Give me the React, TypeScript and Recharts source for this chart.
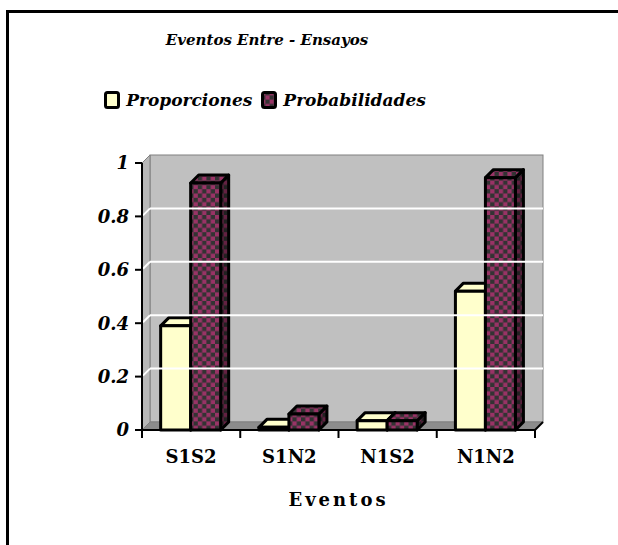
import { BarChart, Bar, XAxis, YAxis, Legend, ReferenceArea, ReferenceLine } from 'recharts'

const CATEGORIES = ['S1S2', 'S1N2', 'N1S2', 'N1N2']
const PROPORCIONES = [0.39, 0.01, 0.035, 0.52]
const PROBABILIDADES = [0.925, 0.06, 0.035, 0.945]
const SERIES_NAMES = ['Proporciones', 'Probabilidades']
const Y_TICKS = [0, 0.2, 0.4, 0.6, 0.8, 1]
const GRID_VALUES = [0.2, 0.4, 0.6, 0.8]

const data = CATEGORIES.map((cat, i) => ({
  cat,
  proporciones: PROPORCIONES[i],
  probabilidades: PROBABILIDADES[i],
}))

const D = 8 // 3D depth offset
const FONT = '"DejaVu Serif", "Liberation Serif", serif'
const YELLOW = '#FFFFCC'

function Bar3D(props: any) {
  const { x, y, width: w, height: h, fill } = props
  if (w == null || h == null) return null
  const isPattern = fill.startsWith('url')
  const side = `${x + w},${y} ${x + w + D},${y - D} ${x + w + D},${y + h - D} ${x + w},${y + h}`
  return (
    <g stroke="#000" strokeWidth={3} strokeLinejoin="round">
      <polygon points={side} fill={fill} />
      <polygon points={side} fill="#000" fillOpacity={isPattern ? 0.35 : 0.15} stroke="none" />
      <polygon points={`${x},${y} ${x + D},${y - D} ${x + w + D},${y - D} ${x + w},${y}`} fill={fill} />
      <rect x={x} y={y} width={w} height={h} fill={fill} />
    </g>
  )
}

function Walls(props: any) {
  const { x, y, width: w, height: h } = props
  const b = y + h
  return (
    <g>
      <rect x={x + D} y={y - D} width={w} height={h} fill="#C0C0C0" stroke="#808080" strokeWidth={1} />
      <polygon points={`${x},${y} ${x + D},${y - D} ${x + D},${b - D} ${x},${b}`} fill="#B8B8B8" stroke="#808080" strokeWidth={1} />
      <polygon points={`${x},${b} ${x + D},${b - D} ${x + w + D},${b - D} ${x + w},${b}`} fill="#8C8C8C" stroke="#808080" strokeWidth={1} />
      <line x1={x + w} y1={b} x2={x + w + D} y2={b - D} stroke="#000" strokeWidth={2} />
    </g>
  )
}

function GridLine(props: any) {
  const { x1, y1, x2, y2 } = props
  if (x1 == null) return null
  return (
    <g stroke="#fff" strokeWidth={2}>
      <line x1={x1 + 1} y1={y1 - 1} x2={x1 + D} y2={y1 - D} />
      <line x1={x1 + D} y1={y1 - D} x2={x2 + D} y2={y2 - D} />
    </g>
  )
}

function XTick(props: any) {
  const { x, y, payload, index, visibleTicksCount, width } = props
  const half = payload?.offset || width / (2 * visibleTicksCount)
  const last = index === visibleTicksCount - 1
  return (
    <g>
      <line x1={x - half} y1={y} x2={x - half} y2={y + 8} stroke="#000" strokeWidth={2} />
      {last && <line x1={x + half} y1={y} x2={x + half} y2={y + 8} stroke="#000" strokeWidth={2} />}
      <text x={x} y={y + 33} textAnchor="middle" fontFamily={FONT} fontWeight="bold" fontSize={18} fill="#000">
        {payload.value}
      </text>
    </g>
  )
}

function LegendContent(props: any) {
  const items = [...(props.payload || [])].sort(
    (a: any, b: any) => SERIES_NAMES.indexOf(a.value) - SERIES_NAMES.indexOf(b.value)
  )
  return (
    <div style={{ display: 'flex', justifyContent: 'center', gap: 9, marginLeft: -88 }}>
      {items.map((p: any) => (
        <div key={p.value} style={{ display: 'flex', alignItems: 'center', gap: 6 }}>
          <svg width={16} height={18}>
            <rect x={1.5} y={1.5} width={13} height={15} rx={2} fill={p.color} stroke="#000" strokeWidth={3} />
          </svg>
          <span style={{ fontFamily: FONT, fontWeight: 'bold', fontStyle: 'italic', fontSize: 17, color: '#000' }}>
            {p.value}
          </span>
        </div>
      ))}
    </div>
  )
}

export default function App() {
  return (
    <div style={{ position: 'absolute', left: 0, top: 0, width: 618, height: 545, background: '#fff' }}>
      <svg width={0} height={0} style={{ position: 'absolute' }}>
        <defs>
          <pattern id="checker" width={8.6} height={8.6} patternUnits="userSpaceOnUse">
            <rect width={8.6} height={8.6} fill="#333333" />
            <rect width={4.3} height={4.3} fill="#993366" />
            <rect x={4.3} y={4.3} width={4.3} height={4.3} fill="#993366" />
          </pattern>
        </defs>
      </svg>
      <div
        style={{
          position: 'absolute',
          left: 6,
          top: 10,
          width: 612,
          height: 535,
          borderLeft: '3px solid #000',
          borderTop: '3px solid #000',
        }}
      />
      <div
        style={{
          position: 'absolute',
          top: 31,
          left: 117,
          width: 300,
          textAlign: 'center',
          fontFamily: FONT,
          fontWeight: 'bold',
          fontStyle: 'italic',
          fontSize: 15,
          whiteSpace: 'nowrap',
        }}
      >
        Eventos Entre - Ensayos
      </div>
      <BarChart
        width={618}
        height={545}
        data={data}
        margin={{ top: 163, right: 83, left: 102, bottom: 35 }}
        barCategoryGap="19%"
        barGap={0}
      >
        <ReferenceArea y1={0} y2={1} shape={<Walls />} />
        {GRID_VALUES.map((v) => (
          <ReferenceLine key={v} y={v} shape={<GridLine />} />
        ))}
        <XAxis
          dataKey="cat"
          height={80}
          tickSize={0}
          tickMargin={0}
          tickLine={false}
          axisLine={{ stroke: '#000', strokeWidth: 2 }}
          tick={<XTick />}
          interval={0}
          label={{
            value: 'Eventos',
            position: 'insideBottom',
            offset: 4,
            style: { fontFamily: FONT, fontWeight: 'bold', fontSize: 18, letterSpacing: 3, fill: '#000' },
          }}
        />
        <YAxis
          width={40}
          domain={[0, 1]}
          ticks={Y_TICKS}
          interval={0}
          tickSize={7}
          tickMargin={6}
          tickLine={{ stroke: '#000', strokeWidth: 2 }}
          axisLine={{ stroke: '#000', strokeWidth: 2 }}
          tick={{ fontFamily: FONT, fontWeight: 'bold', fontStyle: 'italic', fontSize: 18, fill: '#000' }}
          tickFormatter={(v: number) => String(v)}
        />
        <Legend
          layout="vertical"
          verticalAlign="middle"
          align="center"
          wrapperStyle={{ top: 90, left: 0, width: 618 }}
          content={<LegendContent />}
        />
        <Bar dataKey="proporciones" name="Proporciones" fill={YELLOW} shape={<Bar3D />} isAnimationActive={false} />
        <Bar
          dataKey="probabilidades"
          name="Probabilidades"
          fill="url(#checker)"
          shape={<Bar3D />}
          isAnimationActive={false}
        />
      </BarChart>
    </div>
  )
}
